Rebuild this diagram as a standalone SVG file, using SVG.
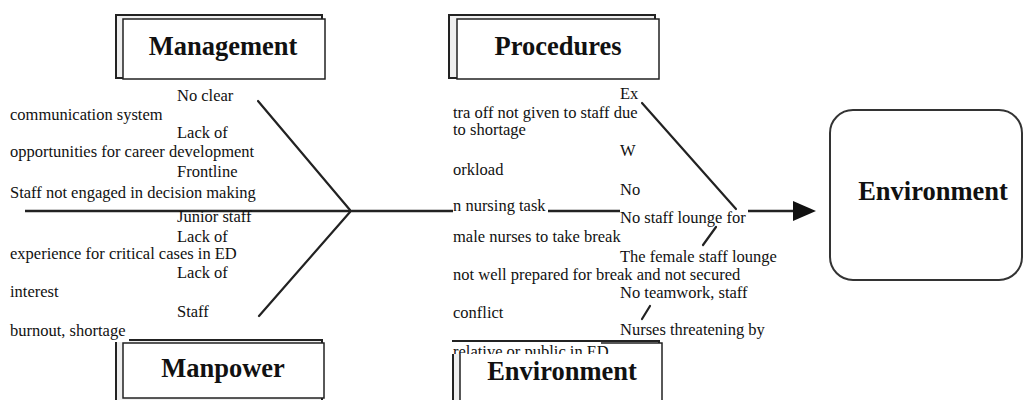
<svg xmlns="http://www.w3.org/2000/svg" width="1024" height="400" viewBox="0 0 1024 400">
<style>
.t{font-family:"Liberation Serif","Times New Roman",serif;font-size:16.5px;fill:#111}
.h{font-family:"Liberation Serif","Times New Roman",serif;font-size:26.5px;font-weight:bold;text-anchor:middle;fill:#111}
.outer{fill:#efefef;stroke:#222;stroke-width:2}
.inner{fill:#fff;stroke:#222;stroke-width:1.5}
.bone{stroke:#222;stroke-width:2.2;fill:none;stroke-linecap:round}
.spine{stroke:#222;stroke-width:2.5;fill:none}
</style>
<defs>
<marker id="ah" viewBox="0 0 23 20" refX="0" refY="10" markerWidth="23" markerHeight="20" markerUnits="userSpaceOnUse" orient="auto">
<path d="M0,0 L23,10 L0,20 z" fill="#111"/>
</marker>
<clipPath id="cut"><rect x="440" y="330" width="200" height="24"/></clipPath>
</defs>
<rect width="1024" height="400" fill="#fff"/>

<g id="connectors">
<line class="spine" x1="25" y1="211" x2="453" y2="211"/>
<line class="spine" x1="548" y1="211" x2="620" y2="211"/>
<line class="spine" x1="748" y1="211" x2="793" y2="211" marker-end="url(#ah)"/>
<line class="bone" x1="258" y1="101" x2="350" y2="210"/>
<line class="bone" x1="350" y1="212" x2="259" y2="316"/>
<line class="bone" x1="642" y1="103" x2="736" y2="209"/>
<line class="bone" x1="716" y1="227" x2="703" y2="245"/>
<line class="bone" x1="650" y1="306" x2="642" y2="319"/>
</g>

<g id="management">
<rect class="outer" x="116" y="15" width="206" height="63"/>
<rect class="inner" x="123" y="19" width="202" height="60"/>
<text class="h" x="223" y="55">Management</text>
</g>

<g id="procedures">
<rect class="outer" x="449" y="15" width="206" height="63"/>
<rect class="inner" x="457" y="19" width="202" height="60"/>
<text class="h" x="558" y="55">Procedures</text>
</g>

<g id="manpower">
<rect class="outer" x="116" y="340" width="206" height="80"/>
<rect class="inner" x="123" y="343" width="201" height="55"/>
<rect x="112" y="334" width="17" height="8" fill="#fff"/>
<text class="h" x="223" y="377">Manpower</text>
</g>

<g id="environment-cause">
<rect class="outer" x="453" y="341" width="206" height="80"/>
<rect class="inner" x="460" y="343" width="202" height="80"/>
<rect x="451" y="342" width="150" height="12" fill="#fff"/>
<text class="t" x="453" y="357" clip-path="url(#cut)">relative or public in ED</text>
<text class="h" x="562" y="380">Environment</text>
</g>

<g id="environment-effect">
<rect x="830" y="110" width="192" height="170" rx="23" ry="23" fill="#fff" stroke="#333" stroke-width="2"/>
<text class="h" x="933" y="200">Environment</text>
</g>

<g id="causes">
<text class="t" x="177" y="101">No clear</text>
<text class="t" x="10" y="120">communication system</text>
<text class="t" x="177" y="138">Lack of</text>
<text class="t" x="10" y="157">opportunities for career development</text>
<text class="t" x="177" y="177">Frontline</text>
<text class="t" x="10" y="198">Staff not engaged in decision making</text>
<text class="t" x="177" y="222">Junior staff</text>
<text class="t" x="177" y="242">Lack of</text>
<text class="t" x="10" y="259">experience for critical cases in ED</text>
<text class="t" x="177" y="278">Lack of</text>
<text class="t" x="10" y="297">interest</text>
<text class="t" x="177" y="317">Staff</text>
<text class="t" x="10" y="336">burnout, shortage</text>

<text class="t" x="620" y="99">Ex</text>
<text class="t" x="453" y="118">tra off not given to staff due</text>
<text class="t" x="453" y="135">to shortage</text>
<text class="t" x="620" y="156">W</text>
<text class="t" x="453" y="175">orkload</text>
<text class="t" x="620" y="195">No</text>
<text class="t" x="453" y="211">n nursing task</text>
<text class="t" x="620" y="223">No staff lounge for</text>
<text class="t" x="453" y="242">male nurses to take break</text>
<text class="t" x="620" y="262">The female staff lounge</text>
<text class="t" x="453" y="280">not well prepared for break and not secured</text>
<text class="t" x="620" y="298">No teamwork, staff</text>
<text class="t" x="453" y="318">conflict</text>
<text class="t" x="620" y="335">Nurses threatening by</text>
</g>
</svg>
